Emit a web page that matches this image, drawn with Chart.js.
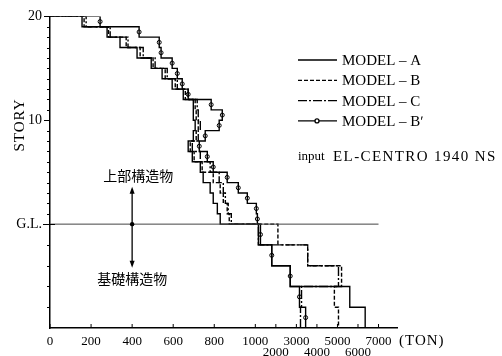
<!DOCTYPE html>
<html>
<head>
<meta charset="utf-8">
<script src="https://cdn.jsdelivr.net/npm/chart.js@4.4.0/dist/chart.umd.min.js"></script>
<style>
  html, body { margin: 0; padding: 0; background: #fff; }
</style>
</head>
<body>
<canvas id="chart-shear" width="502" height="356"></canvas>
<script>
// upper structure, story 20 -> 1 (TON)
const stories = [20, 19, 18, 17, 16, 15, 14, 13, 12, 11, 10, 9, 8, 7, 6, 5, 4, 3, 2, 1];
const modelA  = [156, 278, 341, 424, 493, 546, 595, 649, 698, 698, 707, 698, 673, 693, 732, 746, 780, 795, 815, 829];
const modelB  = [166, 285, 371, 439, 502, 561, 610, 659, 707, 712, 722, 712, 683, 702, 741, 795, 829, 844, 863, 873];
const modelC  = [176, 293, 380, 454, 512, 571, 620, 673, 717, 722, 732, 722, 693, 732, 780, 824, 844, 854, 868, 883];
const modelBp = [244, 434, 532, 541, 595, 620, 644, 673, 785, 839, 824, 756, 727, 766, 795, 863, 917, 961, 1050, 1100];

// foundation part, levels below G.L.
const baseLevels = [0, -2, -4, -6, -8, -10];
const baseA  = [1150, 1800, 2700, 5600, 6350];
const baseB  = [2100, 3550, 5200, 4850, 5050];
const baseC  = [1150, 3550, 5050, 3250, 3200];
const baseBp = [1250, 1800, 2700, 3150, 3450];

const xTicks = [0, 200, 400, 600, 800, 1000, 2000, 3000, 4000, 5000, 6000, 7000];
const xLowRow = [2000, 4000, 6000];
const yTicks = [20, 19, 18, 17, 16, 15, 14, 13, 12, 11, 10, 9, 8, 7, 6, 5, 4, 3, 2, 1, 0, -2, -4, -6, -8];
const yLabels = { 20: '20', 10: '10', 0: 'G.L.' };

// axis is compressed 1/10 above 1000 ton
function toX(v) { return v <= 1000 ? v : 1000 + (v - 1000) / 10; }

function stepPoints(upper, lower) {
    const pts = [{ x: 0, y: stories[0] }];
    upper.forEach((v, i) => {
        pts.push({ x: toX(v), y: stories[i] });
        pts.push({ x: toX(v), y: stories[i] - 1 });
    });
    lower.forEach((v, i) => {
        pts.push({ x: toX(v), y: baseLevels[i] });
        pts.push({ x: toX(v), y: baseLevels[i + 1] });
    });
    return pts;
}

function midPoints(upper, lower) {
    const pts = upper.map((v, i) => ({ x: toX(v), y: stories[i] - 0.5 }));
    lower.forEach((v, i) => pts.push({ x: toX(v), y: (baseLevels[i] + baseLevels[i + 1]) / 2 }));
    return pts;
}

const serif = '"Liberation Serif", "DejaVu Serif", serif';

const extras = {
    id: 'extras',
    afterDraw(chart) {
        const ctx = chart.ctx;
        const x = chart.scales.x, y = chart.scales.y;
        ctx.save();
        ctx.strokeStyle = '#000';
        ctx.fillStyle = '#000';
        ctx.lineWidth = 1;

        // inward ticks on the bottom axis
        xTicks.forEach(v => {
            const px = x.getPixelForValue(toX(v));
            ctx.beginPath();
            ctx.moveTo(px, y.bottom);
            ctx.lineTo(px, y.bottom - 4);
            ctx.stroke();
        });

        // ticks on the story axis
        yTicks.forEach(v => {
            const py = Math.round(y.getPixelForValue(v)) + 0.5;
            const len = (v === 20 || v === 10) ? 6 : (v === 0 ? 7 : 3);
            ctx.beginPath();
            ctx.moveTo(x.left - len, py);
            ctx.lineTo(v === 0 ? x.left + 5 : x.left, py);
            ctx.stroke();
        });

        // arrow at 400 ton
        const ax = x.getPixelForValue(400);
        const yTop = y.getPixelForValue(3.6), yBot = y.getPixelForValue(-4.2), yGL = y.getPixelForValue(0);
        ctx.lineWidth = 1.3;
        ctx.beginPath();
        ctx.moveTo(ax, yTop + 3);
        ctx.lineTo(ax, yBot - 3);
        ctx.stroke();
        ctx.beginPath();
        ctx.moveTo(ax, yTop); ctx.lineTo(ax - 2.5, yTop + 7); ctx.lineTo(ax + 2.5, yTop + 7); ctx.closePath();
        ctx.fill();
        ctx.beginPath();
        ctx.moveTo(ax, yBot); ctx.lineTo(ax - 2.5, yBot - 7); ctx.lineTo(ax + 2.5, yBot - 7); ctx.closePath();
        ctx.fill();
        ctx.beginPath();
        ctx.arc(ax, yGL, 2.2, 0, Math.PI * 2);
        ctx.fill();

        ctx.font = '14px "Noto Sans CJK JP"';
        ctx.textAlign = 'center';
        ctx.textBaseline = 'middle';
        ctx.fillText('上部構造物', ax + 6, y.getPixelForValue(4.7));
        ctx.fillText('基礎構造物', ax, y.getPixelForValue(-5.3));

        // y title
        ctx.save();
        ctx.translate(20, 125);
        ctx.rotate(-Math.PI / 2);
        ctx.font = '15px ' + serif;
        ctx.letterSpacing = '1px';
        ctx.fillText('STORY', 0, 0);
        ctx.restore();

        // unit
        ctx.textAlign = 'left';
        ctx.font = '15px ' + serif;
        ctx.letterSpacing = '1px';
        ctx.fillText('(TON)', 399, 341);

        // legend
        const rows = [
            { text: 'MODEL \u2013 A', dash: [] },
            { text: 'MODEL \u2013 B', dash: [4, 2] },
            { text: 'MODEL \u2013 C', dash: [9, 2, 2, 2] },
            { text: 'MODEL \u2013 B\u02B9', dash: [], dot: true }
        ];
        ctx.font = '15px ' + serif;
        ctx.letterSpacing = '0px';
        rows.forEach((r, i) => {
            const ly = 60 + i * 20.3;
            ctx.lineWidth = 1.3;
            ctx.setLineDash(r.dash);
            ctx.beginPath();
            ctx.moveTo(298, ly);
            ctx.lineTo(337, ly);
            ctx.stroke();
            ctx.setLineDash([]);
            if (r.dot) {
                ctx.beginPath();
                ctx.arc(317, ly, 2, 0, Math.PI * 2);
                ctx.fillStyle = '#fff';
                ctx.fill();
                ctx.stroke();
                ctx.fillStyle = '#000';
            }
            ctx.fillText(r.text, 342, ly + 1);
        });

        ctx.font = '13px ' + serif;
        ctx.fillText('input', 298, 157);
        ctx.font = '15px ' + serif;
        ctx.letterSpacing = '1.4px';
        ctx.fillText('EL-CENTRO 1940 NS', 333, 157);
        ctx.restore();
    }
};

const lineStyle = { borderColor: '#000', borderWidth: 1.4, pointRadius: 0, showLine: true, fill: false };

new Chart(document.getElementById('chart-shear'), {
    type: 'scatter',
    data: {
        datasets: [
            { ...lineStyle, label: 'G.L.', data: [{ x: 0, y: 0 }, { x: toX(7000), y: 0 }], borderWidth: 1, borderColor: '#444' },
            { ...lineStyle, label: 'MODEL-A', data: stepPoints(modelA, baseA) },
            { ...lineStyle, label: 'MODEL-B', data: stepPoints(modelB, baseB), borderDash: [4, 2] },
            { ...lineStyle, label: 'MODEL-C', data: stepPoints(modelC, baseC), borderDash: [9, 2, 2, 2] },
            { ...lineStyle, label: "MODEL-B'", data: stepPoints(modelBp, baseBp) },
            { label: "MODEL-B' mark", data: midPoints(modelBp, baseBp), showLine: false,
              pointRadius: 2, pointBackgroundColor: '#fff', pointBorderColor: '#000', pointBorderWidth: 1 }
        ]
    },
    options: {
        responsive: false,
        animation: false,
        layout: { padding: { top: 16, right: 105, bottom: 0, left: 0 } },
        plugins: { legend: { display: false }, tooltip: { enabled: false } },
        scales: {
            x: {
                type: 'linear',
                min: 0,
                max: 1690,
                afterBuildTicks: s => { s.ticks = xTicks.map(v => ({ value: toX(v) })); },
                afterFit: s => { s.height = 28; },
                grid: { display: true, drawOnChartArea: false, drawTicks: false },
                border: { display: true, color: '#000', width: 1.5 },
                ticks: {
                    autoSkip: false,
                    maxRotation: 0,
                    padding: 8,
                    color: '#000',
                    font: { family: serif, size: 13, lineHeight: 0.85 },
                    callback: (val, i) => xLowRow.includes(xTicks[i]) ? ['', String(xTicks[i])] : String(xTicks[i])
                }
            },
            y: {
                type: 'linear',
                min: -10,
                max: 20,
                afterBuildTicks: s => { s.ticks = yTicks.map(v => ({ value: v })); },
                afterFit: s => { s.width = 50; },
                grid: { display: false, drawTicks: false },
                border: { display: true, color: '#000', width: 1.5 },
                ticks: {
                    autoSkip: false,
                    padding: 8,
                    color: '#000',
                    font: { family: serif, size: 14 },
                    callback: v => yLabels[v] ?? ''
                }
            }
        }
    },
    plugins: [extras]
});
</script>
</body>
</html>
